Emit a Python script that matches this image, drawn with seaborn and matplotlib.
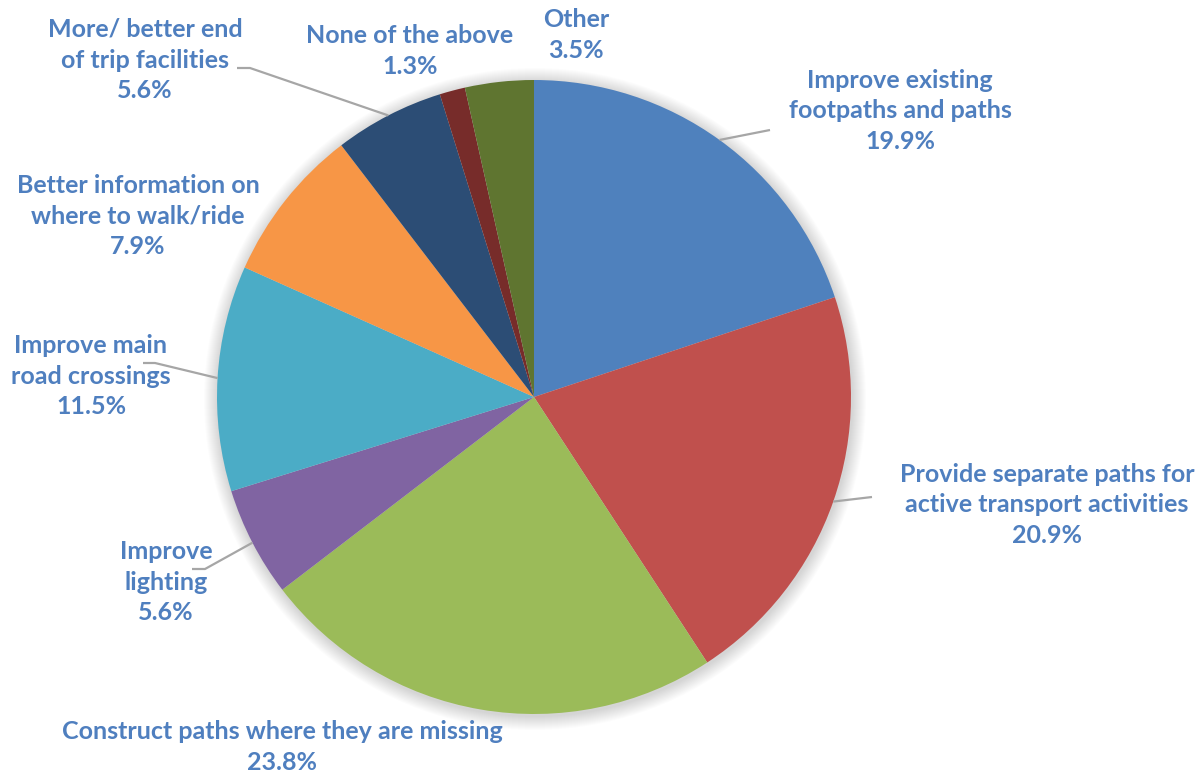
import matplotlib
matplotlib.use("Agg")
import matplotlib.pyplot as plt
from matplotlib.patches import Circle
import numpy as np
import seaborn as sns

# Survey responses: most wanted improvements for walking / riding
categories = [
    "Improve existing\nfootpaths and paths",
    "Provide separate paths for\nactive transport activities",
    "Construct paths where they are missing",
    "Improve\nlighting",
    "Improve main\nroad crossings",
    "Better information on\nwhere to walk/ride",
    "More/ better end\nof trip facilities",
    "None of the above",
    "Other",
]
shares = [19.9, 20.9, 23.8, 5.6, 11.5, 7.9, 5.6, 1.3, 3.5]
colors = ["#4F81BD", "#C0504D", "#9BBB59", "#8064A2", "#4BACC6",
          "#F79646", "#2C4D75", "#772C2A", "#5F7530"]

# Label placement (pixel positions, y measured from top) and leader knees
label_pos = [(900, 111), (1047, 505), (282, 747), (166, 582), (91, 376),
             (138, 216), (145, 60), (410, 51), (576, 35)]
leader_knee = [[(770, 130)], [(872, 497)], None, [(205, 569), (192, 569)],
               [(155, 363), (143, 363)], None, [(250, 68), (237, 68)], None, None]

W, H = 1199, 773
sns.set_theme(style="white")
plt.rcParams["font.family"] = ["Lato", "DejaVu Sans"]

fig = plt.figure(figsize=(W / 100, H / 100), dpi=100)
ax = fig.add_axes([0, 0, 1, 1])

cx, cy, r = 534, H - 397, 317

# soft shadow around the pie
for i in range(14):
    ax.add_patch(Circle((cx + 1, cy - 2), r + 14 - i, facecolor="black",
                        edgecolor="none", alpha=0.011, zorder=0))

palette = sns.color_palette(colors)
wedges, _ = ax.pie(shares, colors=palette, startangle=90, counterclock=False,
                   center=(cx, cy), radius=r,
                   wedgeprops=dict(linewidth=0, zorder=2))

label_color = "#4F7FBF"
line_color = "#A6A6A6"
for w, cat, val, (lx, ly), knee in zip(wedges, categories, shares,
                                       label_pos, leader_knee):
    ax.text(lx, H - ly, f"{cat}\n{val:.1f}%", ha="center", va="center",
            fontsize=18, fontweight="bold", color=label_color,
            linespacing=1.42, zorder=4)
    if knee:
        mid = np.deg2rad((w.theta1 + w.theta2) / 2)
        ex = w.center[0] + w.r * np.cos(mid)
        ey = w.center[1] + w.r * np.sin(mid)
        xs = [ex] + [k[0] for k in knee]
        ys = [ey] + [H - k[1] for k in knee]
        ax.plot(xs, ys, color=line_color, lw=1.6, zorder=3,
                solid_capstyle="butt")

ax.set_xlim(0, W)
ax.set_ylim(0, H)
ax.set_aspect("equal")
ax.axis("off")
fig.savefig("out.png", dpi=100, facecolor="white")
